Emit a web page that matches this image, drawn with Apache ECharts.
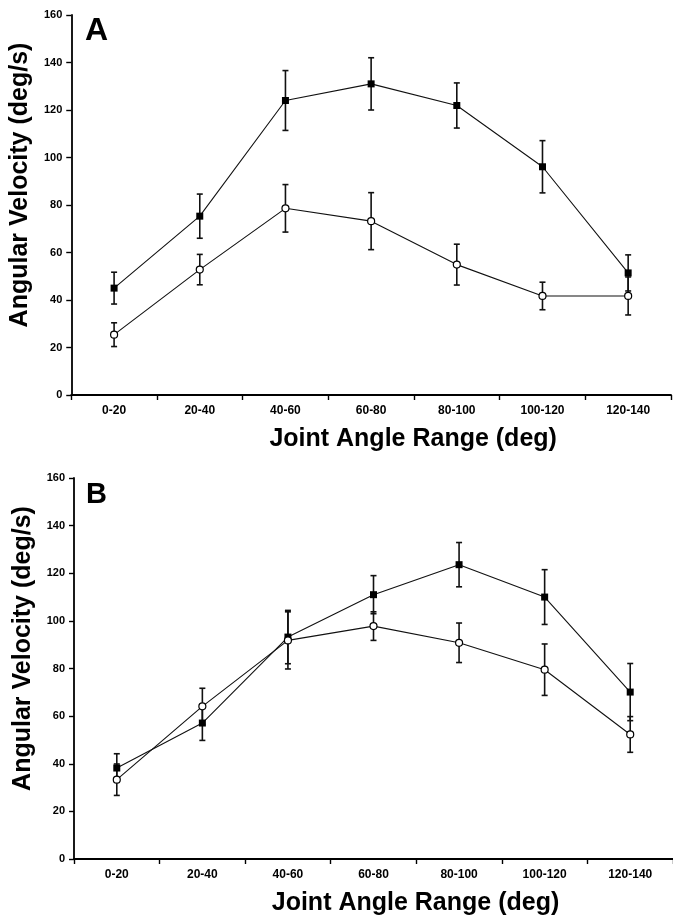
<!DOCTYPE html>
<html>
<head>
<meta charset="utf-8">
<script src="https://cdn.jsdelivr.net/npm/echarts@6/dist/echarts.min.js"></script>
<style>
  * { margin: 0; padding: 0; }
  body { background: #fff; }
</style>
</head>
<body>
<div id="main" style="width: 673px;height: 917px;"></div>
<script>
  // joint angle ranges (x categories)
  var categories = ['0-20', '20-40', '40-60', '60-80', '80-100', '100-120', '120-140'];
  var yTicks = [0, 20, 40, 60, 80, 100, 120, 140, 160];

  // panel A
  var aFilled = [45, 75.3, 124, 131, 121.9, 96.1, 51.4];
  var aFilledErr = [6.7, 9.3, 12.6, 11, 9.5, 11, 7.6];
  var aOpen = [25.4, 52.8, 78.6, 73.2, 54.9, 41.7, 41.7];
  var aOpenErr = [5, 6.4, 10, 12, 8.6, 5.8, 8];

  // panel B
  var bFilled = [38.2, 57.1, 93.2, 111, 123.6, 110, 70.1];
  var bFilledErr = [6, 7.3, 11.2, 8, 9.3, 11.5, 12];
  var bOpen = [33.3, 64.1, 91.8, 97.8, 90.8, 79.5, 52.3];
  var bOpenErr = [6.6, 7.6, 12, 6, 8.3, 10.8, 7.5];

  var font = 'Liberation Sans, Arial, Helvetica, sans-serif';

  function errData(vals, errs) {
    return vals.map(function (v, i) { return [i, v, errs[i]]; });
  }

  // vertical error bar with small caps
  function renderErr(params, api) {
    var i = api.value(0), v = api.value(1), e = api.value(2);
    var top = api.coord([i, v + e]);
    var bot = api.coord([i, v - e]);
    var cap = 3;
    var st = { stroke: '#111', lineWidth: 1.6 };
    return {
      type: 'group',
      children: [
        { type: 'line', shape: { x1: top[0], y1: top[1], x2: bot[0], y2: bot[1] }, style: st },
        { type: 'line', shape: { x1: top[0] - cap, y1: top[1], x2: top[0] + cap, y2: top[1] }, style: st },
        { type: 'line', shape: { x1: bot[0] - cap, y1: bot[1], x2: bot[0] + cap, y2: bot[1] }, style: st }
      ]
    };
  }

  function xAxisFor(idx) {
    return {
      type: 'category',
      gridIndex: idx,
      data: categories,
      boundaryGap: true,
      name: 'Joint Angle Range (deg)',
      nameLocation: 'middle',
      nameGap: 32,
      nameTextStyle: { fontFamily: font, fontWeight: 'bold', fontSize: 25, color: '#000', padding: [0, 0, 0, 84] },
      axisLine: { lineStyle: { color: '#000', width: 1.8 } },
      axisTick: { show: true, length: 5, lineStyle: { color: '#000', width: 1.4 } },
      axisLabel: { fontFamily: font, fontWeight: 'bold', fontSize: 12, color: '#000', margin: 10 },
      splitLine: { show: false }
    };
  }

  function yAxisFor(idx) {
    return {
      type: 'value',
      gridIndex: idx,
      min: 0,
      max: 160,
      interval: 20,
      name: 'Angular Velocity (deg/s)',
      nameLocation: 'middle',
      nameGap: 35,
      nameTextStyle: { fontFamily: font, fontWeight: 'bold', fontSize: 25, color: '#000', padding: [0, 0, 0, 40] },
      axisLine: { show: true, lineStyle: { color: '#000', width: 1.8 } },
      axisTick: { show: true, length: 5, lineStyle: { color: '#000', width: 1.4 } },
      axisLabel: {
        fontFamily: font, fontWeight: 'bold', fontSize: 11, color: '#000', margin: 9,
        formatter: function (v) { return yTicks.indexOf(v) >= 0 ? String(v) : ''; }
      },
      splitLine: { show: false }
    };
  }

  function lineSeries(data, idx, filled) {
    return {
      type: 'line',
      xAxisIndex: idx,
      yAxisIndex: idx,
      data: data,
      symbol: filled ? 'rect' : 'circle',
      symbolSize: 7,
      showSymbol: true,
      lineStyle: { color: '#111', width: 1.1 },
      itemStyle: filled ? { color: '#000' } : { color: '#fff', borderColor: '#000', borderWidth: 1.2 },
      z: 3,
      animation: false
    };
  }

  function errSeries(vals, errs, idx) {
    return {
      type: 'custom',
      xAxisIndex: idx,
      yAxisIndex: idx,
      renderItem: renderErr,
      encode: { x: 0, y: 1 },
      data: errData(vals, errs),
      z: 2,
      animation: false
    };
  }

  var chart = echarts.init(document.getElementById('main'));
  chart.setOption({
    backgroundColor: '#fff',
    animation: false,
    title: [
      { text: 'A', left: 80, top: 10, textStyle: { fontFamily: font, fontWeight: 'bold', fontSize: 32, color: '#000' } },
      { text: 'B', left: 81, top: 475, textStyle: { fontFamily: font, fontWeight: 'bold', fontSize: 29, color: '#000' } }
    ],
    grid: [
      { left: 70, top: 15, width: 601, height: 380 },
      { left: 74, top: 478, width: 601, height: 381 }
    ],
    xAxis: [xAxisFor(0), xAxisFor(1)],
    yAxis: [yAxisFor(0), yAxisFor(1)],
    series: [
      errSeries(aFilled, aFilledErr, 0),
      errSeries(aOpen, aOpenErr, 0),
      lineSeries(aFilled, 0, true),
      lineSeries(aOpen, 0, false),
      errSeries(bFilled, bFilledErr, 1),
      errSeries(bOpen, bOpenErr, 1),
      lineSeries(bFilled, 1, true),
      lineSeries(bOpen, 1, false)
    ]
  });
</script>
</body>
</html>
